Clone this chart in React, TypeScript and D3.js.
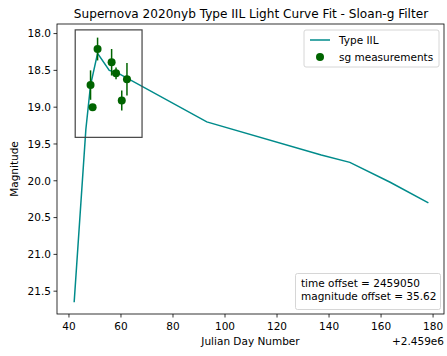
import React from "react";
import * as d3 from "d3";

const modelDays = [42.0, 46.5, 48.3, 51.0, 55.5, 58.5, 93.0, 137.0, 148.0, 163.5, 178.2];
const modelMags = [21.65, 19.3, 18.7, 18.27, 18.5, 18.53, 19.2, 19.65, 19.75, 20.02, 20.3];

const obsDays = [48.3, 49.1, 51.0, 56.4, 58.1, 60.3, 62.3];
const obsMags = [18.7, 19.0, 18.21, 18.39, 18.54, 18.91, 18.62];
const obsErrs = [0.2, 0.04, 0.155, 0.18, 0.08, 0.135, 0.22];

const xTicks = [40, 60, 80, 100, 120, 140, 160, 180];
const yTicks = [18.0, 18.5, 19.0, 19.5, 20.0, 20.5, 21.0, 21.5];

const boxDays = [42.4, 68.1];
const boxMags = [17.95, 19.41];

const W = 447, H = 356;
const L = 57, R = 444, T = 24, B = 314;

export default function App() {
  const x = d3.scaleLinear().domain([35.4, 184.2]).range([L, R]);
  const y = d3.scaleLinear().domain([17.87, 21.81]).range([T, B]);
  const line = d3.line<number>().x((d, i) => x(modelDays[i])).y((d, i) => y(modelMags[i]));
  const font = "'DejaVu Sans', sans-serif";
  const fs = 10.5;
  return (
    <svg width={W} height={H} style={{ position: "absolute", left: 0, top: 0, background: "#fff" }} fontFamily={font}>
      <rect x={0} y={0} width={W} height={H} fill="#fff" />
      <text x={251} y={18} textAnchor="middle" fontSize={12.1} fill="#000">
        Supernova 2020nyb Type IIL Light Curve Fit - Sloan-g Filter
      </text>
      <defs>
        <clipPath id="clip"><rect x={L} y={T} width={R - L} height={B - T} /></clipPath>
      </defs>
      <g clipPath="url(#clip)">
        <path d={line(modelMags) || ""} fill="none" stroke="#008b8b" strokeWidth={1.5} />
        {obsDays.map((d, i) => (
          <g key={i}>
            <line x1={x(d)} x2={x(d)} y1={y(obsMags[i] - obsErrs[i])} y2={y(obsMags[i] + obsErrs[i])} stroke="#006400" strokeWidth={1.5} />
            <circle cx={x(d)} cy={y(obsMags[i])} r={4} fill="#006400" />
          </g>
        ))}
        <rect x={x(boxDays[0])} y={y(boxMags[0])} width={x(boxDays[1]) - x(boxDays[0])} height={y(boxMags[1]) - y(boxMags[0])} fill="none" stroke="#444" strokeWidth={1.2} />
      </g>
      <rect x={L} y={T} width={R - L} height={B - T} fill="none" stroke="#000" strokeWidth={0.8} />
      {xTicks.map((t) => (
        <g key={t}>
          <line x1={x(t)} x2={x(t)} y1={B} y2={B + 3.5} stroke="#000" strokeWidth={0.8} />
          <text x={x(t)} y={B + 16} textAnchor="middle" fontSize={fs} fill="#000">{t}</text>
        </g>
      ))}
      {yTicks.map((t) => (
        <g key={t}>
          <line x1={L} x2={L - 3.5} y1={y(t)} y2={y(t)} stroke="#000" strokeWidth={0.8} />
          <text x={L - 6} y={y(t) + 3.8} textAnchor="end" fontSize={fs} fill="#000">{t.toFixed(1)}</text>
        </g>
      ))}
      <text x={R} y={345} textAnchor="end" fontSize={fs} fill="#000">+2.459e6</text>
      <text x={(L + R) / 2} y={345} textAnchor="middle" fontSize={fs} fill="#000">Julian Day Number</text>
      <text transform={`translate(18,${(T + B) / 2}) rotate(-90)`} textAnchor="middle" fontSize={fs} fill="#000">Magnitude</text>
      <g>
        <rect x={304} y={30} width={135} height={37} rx={2} fill="#fff" fillOpacity={0.8} stroke="#ccc" strokeWidth={0.8} />
        <line x1={310} x2={330} y1={40} y2={40} stroke="#008b8b" strokeWidth={1.5} />
        <text x={339} y={44} fontSize={fs} fill="#000">Type IIL</text>
        <circle cx={320} cy={57} r={4} fill="#006400" />
        <text x={339} y={61} fontSize={fs} fill="#000">sg measurements</text>
      </g>
      <g>
        <rect x={295.5} y={273.5} width={145} height={36} rx={2} fill="#fff" fillOpacity={0.8} stroke="#ccc" strokeWidth={0.8} />
        <text x={301} y={286.5} fontSize={fs} fill="#000">time offset = 2459050</text>
        <text x={301} y={300} fontSize={fs} fill="#000">magnitude offset = 35.62</text>
      </g>
    </svg>
  );
}
